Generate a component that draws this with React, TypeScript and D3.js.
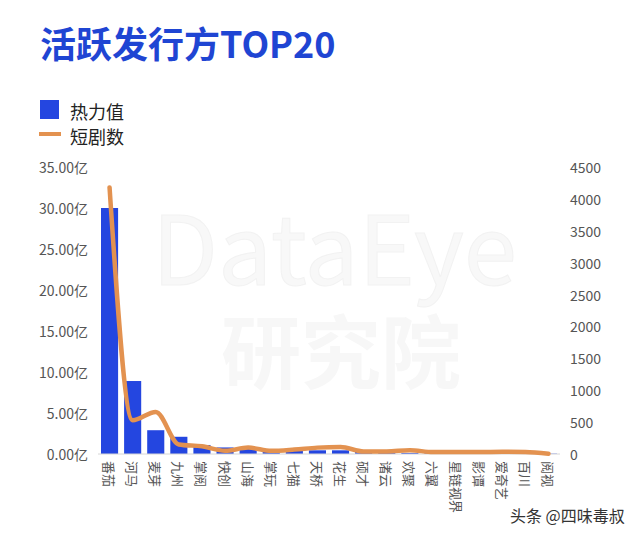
import React, { useRef, useEffect } from 'react';
import * as d3 from 'd3';

const categories = ['番茄', '河马', '麦芽', '九州', '掌阅', '快创', '山海', '掌玩', '七猫', '天桥', '花生', '硕才', '诸云', '欢聚', '六翼', '星链视界', '影谭', '爱奇艺', '百川', '阅视'];
// 热力值, in 亿
const heatValues = [30.0, 8.9, 2.9, 2.1, 1.1, 0.8, 0.7, 0.5, 0.45, 0.45, 0.45, 0.25, 0.15, 0.12, 0.1, 0.08, 0.07, 0.06, 0.05, 0.04];
// 短剧数
const dramaCounts = [4180, 530, 660, 150, 120, 50, 100, 50, 70, 100, 110, 40, 40, 60, 30, 30, 30, 35, 30, 5];
const leftTicks = [0, 5, 10, 15, 20, 25, 30, 35];
const rightTicks = [0, 500, 1000, 1500, 2000, 2500, 3000, 3500, 4000, 4500];

const FONT = '"Noto Sans CJK SC", "Noto Sans", sans-serif';

const App: React.FC = () => {
  const chartRef = useRef<SVGSVGElement>(null);

  useEffect(() => {
    drawChart();
  }, []);

  const drawChart = (): void => {
    const svg = d3.select(chartRef.current);
    svg.selectAll('*').remove();

    const left = 98;
    const right = 560;
    const top = 167;
    const bottom = 454;

    // watermark
    svg.append('text').text('DataEye')
      .attr('x', 152).attr('y', 285)
      .attr('font-family', FONT).attr('font-size', 96)
      .attr('fill', '#f8f8f8').attr('stroke', '#f2f2f2').attr('stroke-width', 1);
    svg.append('text').text('研究院')
      .attr('x', 341).attr('y', 382).attr('text-anchor', 'middle')
      .attr('font-family', FONT).attr('font-size', 80).attr('font-weight', 'bold')
      .attr('fill', '#f7f7f7');

    // title
    svg.append('text').text('活跃发行方TOP20')
      .attr('x', 40).attr('y', 58)
      .attr('font-family', FONT).attr('font-size', 36).attr('font-weight', 'bold')
      .attr('fill', '#1f45d3');

    // legend
    svg.append('rect').attr('x', 40).attr('y', 100).attr('width', 19).attr('height', 19).attr('fill', '#2446e0');
    svg.append('text').text('热力值').attr('x', 70).attr('y', 111)
      .attr('dominant-baseline', 'central')
      .attr('font-family', FONT).attr('font-size', 18).attr('fill', '#222');
    svg.append('line').attr('x1', 39).attr('x2', 61).attr('y1', 134).attr('y2', 134)
      .attr('stroke', '#e39250').attr('stroke-width', 4);
    svg.append('text').text('短剧数').attr('x', 70).attr('y', 136)
      .attr('dominant-baseline', 'central')
      .attr('font-family', FONT).attr('font-size', 18).attr('fill', '#222');

    const xScale = d3.scaleBand().domain(categories).range([left, right]).paddingInner(0.26).paddingOuter(0.13);
    const xPoint = (c: string) => (xScale(c) || 0) + xScale.bandwidth() / 2;
    const yLeft = d3.scaleLinear().domain([0, 35]).range([bottom, top]);
    const yRight = d3.scaleLinear().domain([0, 4500]).range([bottom, top]);

    // left axis labels
    svg.append('g').selectAll('text').data(leftTicks).enter().append('text')
      .text((d) => `${d.toFixed(2)}亿`)
      .attr('x', 88).attr('y', (d) => yLeft(d))
      .attr('text-anchor', 'end').attr('dominant-baseline', 'central')
      .attr('font-family', FONT).attr('font-size', 14).attr('fill', '#555');

    // right axis labels
    svg.append('g').selectAll('text').data(rightTicks).enter().append('text')
      .text((d) => d)
      .attr('x', 570).attr('y', (d) => yRight(d))
      .attr('text-anchor', 'start').attr('dominant-baseline', 'central')
      .attr('font-family', FONT).attr('font-size', 14).attr('fill', '#555');

    // bars
    svg.append('g').selectAll('rect').data(categories).enter().append('rect')
      .attr('x', (d) => xScale(d) || 0)
      .attr('y', (_, i) => yLeft(heatValues[i]))
      .attr('width', xScale.bandwidth())
      .attr('height', (_, i) => bottom - yLeft(heatValues[i]))
      .attr('fill', '#2446e0');

    // x axis line
    svg.append('line').attr('x1', left).attr('x2', right).attr('y1', bottom).attr('y2', bottom)
      .attr('stroke', '#d6d6d6').attr('stroke-width', 1);

    // x labels, rotated
    svg.append('g').selectAll('text').data(categories).enter().append('text')
      .text((d) => d)
      .attr('transform', (d) => `translate(${xPoint(d)},461) rotate(90)`)
      .attr('text-anchor', 'start').attr('dominant-baseline', 'central')
      .attr('font-family', FONT).attr('font-size', 13).attr('fill', '#555');

    // line
    const line = d3.line<number>()
      .x((_, i) => xPoint(categories[i]))
      .y((d) => yRight(d))
      .curve(d3.curveMonotoneX);
    svg.append('path').datum(dramaCounts)
      .attr('d', line)
      .attr('fill', 'none').attr('stroke', '#e39250').attr('stroke-width', 4.5)
      .attr('stroke-linejoin', 'round').attr('stroke-linecap', 'round');

    // source tag
    svg.append('text').text('头条 @四味毒叔')
      .attr('x', 510).attr('y', 522)
      .attr('font-family', FONT).attr('font-size', 16)
      .attr('fill', '#333').attr('stroke', '#fff').attr('stroke-width', 3)
      .attr('paint-order', 'stroke');
  };

  return (
    <svg ref={chartRef} width={640} height={535} style={{ position: 'absolute', left: 0, top: 0, background: '#fff' }}></svg>
  );
};

export default App;
